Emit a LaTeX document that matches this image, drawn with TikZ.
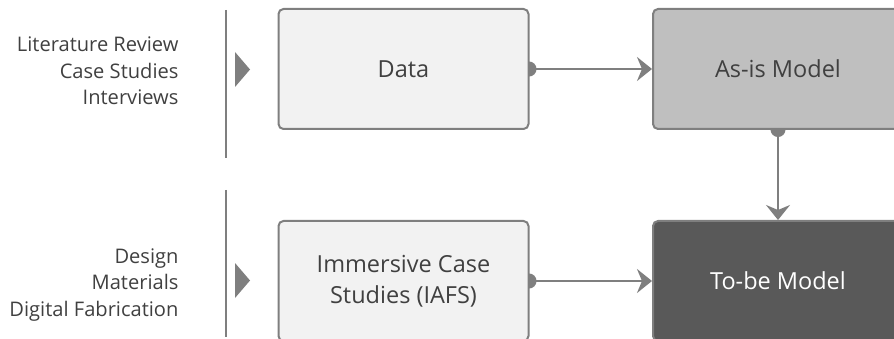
\documentclass[tikz,border=0pt]{standalone}
\usepackage{fontspec}
\setmainfont{Open Sans}
\usetikzlibrary{arrows.meta,backgrounds}
\definecolor{lineg}{HTML}{7F7F7F}
\definecolor{txtg}{HTML}{404040}
\definecolor{lightf}{HTML}{F2F2F2}
\definecolor{midf}{HTML}{BFBFBF}
\definecolor{darkf}{HTML}{595959}
\tikzset{
  box/.style={draw=lineg, line width=2pt, rounded corners=5pt, minimum width=250pt,
    minimum height=120pt, inner sep=0pt, align=center, text=txtg,
    font=\fontsize{23.5}{30.5}\selectfont},
  conn/.style={draw=lineg, line width=2.2pt,
    {Circle[length=15pt]}-{Stealth[length=15pt,width=24pt,inset=5pt]},
    shorten <=-8pt},
  sidelbl/.style={anchor=east, align=right, text=txtg, font=\fontsize{20.1}{26.5}\selectfont},
  sepline/.style={draw=lineg, line width=2pt},
  tri/.style={fill=lineg}
}
\begin{document}
\begin{tikzpicture}[x=1pt,y=-1pt]
\useasboundingbox (0,0) rectangle (894,339);
\clip (0,0) rectangle (894,339);
% nodes
\node[box, fill=lightf] (data) at (403.5,69) {Data};
\node[box, fill=midf] (asis) at (778,69) {As-is Model};
\node[box, fill=lightf] (imm) at (403.5,281) {Immersive Case\\Studies (IAFS)};
\node[box, fill=darkf, text=white] (tobe) at (778,281) {To-be Model};
\node[sidelbl] (lbltop) at (182,71) {Literature Review\\Case Studies\\Interviews};
\node[sidelbl] (lblbot) at (182,285) {Design\\Materials\\Digital Fabrication};
% separators
\coordinate (s1a) at (226,10); \coordinate (s1b) at (226,158);
\coordinate (s2a) at (226,190); \coordinate (s2b) at (226,337);
\draw[sepline] (s1a) -- (s1b);
\draw[sepline] (s2a) -- (s2b);
\fill[tri] (235,52) -- (250,69.5) -- (235,87) -- cycle;
\fill[tri] (235,263) -- (250,280.5) -- (235,298) -- cycle;
% connectors
\begin{scope}[on background layer]
\draw[conn] (data.east) -- (asis.west);
\draw[conn] (imm.east) -- (tobe.west);
\draw[conn] (asis.south) -- (tobe.north);
\end{scope}
\end{tikzpicture}
\end{document}
